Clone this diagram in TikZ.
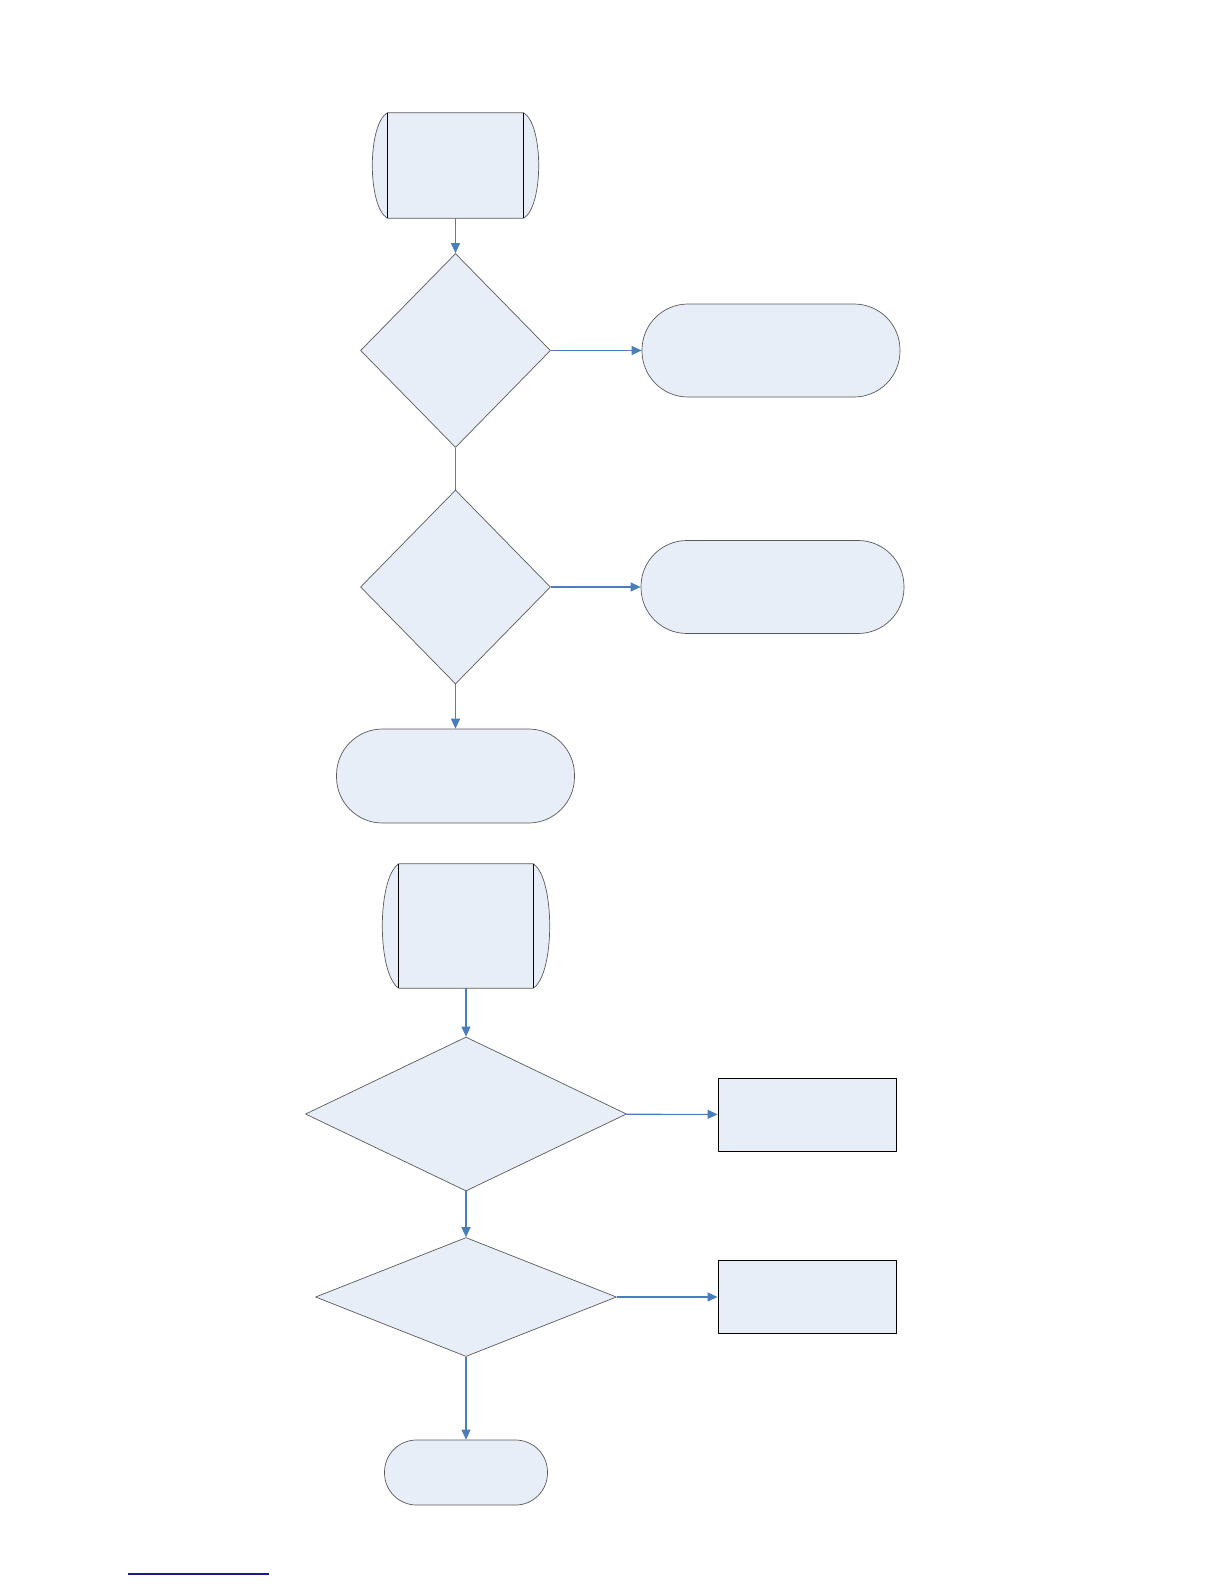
\documentclass[tikz,border=0pt]{standalone}
\usetikzlibrary{shapes.geometric,arrows.meta}

\definecolor{boxfill}{HTML}{E8EEF7}
\definecolor{flowblue}{HTML}{4A7EBB}
\definecolor{edgegray}{HTML}{5A5A5A}
\definecolor{rulenavy}{HTML}{1A1A8C}

\tikzset{
  decision/.style={diamond, draw=edgegray, fill=boxfill, line width=0.7pt, inner sep=0pt},
  terminal/.style={rectangle, draw=edgegray, fill=boxfill, line width=0.7pt},
  process/.style={rectangle, draw=black, fill=boxfill, line width=0.9pt},
  storebox/.style={rectangle, inner sep=0pt},
  flow/.style={->, flowblue, line width=1.1pt},
  joinline/.style={flowblue, line width=1.1pt}
}

\begin{document}
\begin{tikzpicture}[x=1pt, y=-1pt, >={Triangle[length=10pt,width=9pt]}, line join=round]
    \useasboundingbox (0,0) rectangle (1224,1584);

    % upper chart
    \node[storebox, minimum width=136pt, minimum height=105pt] (store1) at (455.5,165.5) {};
    \fill[boxfill, draw=edgegray, line width=0.7pt] (store1.north west) -- (store1.north east)
        .. controls +(20,12) and +(20,-12) .. (store1.south east) -- (store1.south west)
        .. controls +(-20,-12) and +(-20,12) .. cycle;
    \draw[line width=0.9pt] (store1.north west) -- (store1.south west);
    \draw[line width=0.9pt] (store1.north east) -- (store1.south east);

    \node[decision, minimum width=190pt, minimum height=194pt] (dec1) at (455.5,350.5) {};
    \node[terminal, rounded corners=46pt, minimum width=258pt, minimum height=93pt] (end1) at (771,350.5) {};

    \node[decision, minimum width=190pt, minimum height=194pt] (dec2) at (455.5,587) {};
    \node[terminal, rounded corners=46pt, minimum width=263pt, minimum height=93pt] (end2) at (772.5,587) {};

    \node[terminal, rounded corners=46pt, minimum width=238pt, minimum height=94pt] (end3) at (455.5,776) {};

    \draw[flow] (store1) -- (dec1);
    \draw[flow] (dec1) -- (end1);
    \draw[joinline] (dec1) -- (dec2);
    \draw[flow] (dec2) -- (end2);
    \draw[flow] (dec2) -- (end3);

    % lower chart
    \node[storebox, minimum width=134pt, minimum height=124pt] (store2) at (466,926) {};
    \fill[boxfill, draw=edgegray, line width=0.7pt] (store2.north west) -- (store2.north east)
        .. controls +(22,14) and +(22,-14) .. (store2.south east) -- (store2.south west)
        .. controls +(-22,-14) and +(-22,14) .. cycle;
    \draw[line width=0.9pt] (store2.north west) -- (store2.south west);
    \draw[line width=0.9pt] (store2.north east) -- (store2.south east);

    \node[decision, minimum width=321pt, minimum height=154pt] (dec3) at (466,1114) {};
    \node[process, minimum width=178pt, minimum height=73pt] (proc1) at (807,1114.5) {};

    \node[decision, minimum width=301pt, minimum height=119pt] (dec4) at (466,1297) {};
    \node[process, minimum width=178pt, minimum height=73pt] (proc2) at (807,1297) {};

    \node[terminal, rounded corners=32pt, minimum width=163pt, minimum height=65pt] (end4) at (466,1472.5) {};

    \draw[flow] (store2) -- (dec3);
    \draw[flow] (dec3) -- (proc1);
    \draw[flow] (dec3) -- (dec4);
    \draw[flow] (dec4) -- (proc2);
    \draw[flow] (dec4) -- (end4);

    % rule at page foot
    \coordinate (ruleL) at (128,1574);
    \coordinate (ruleR) at (269,1574);
    \draw[rulenavy, line width=1.2pt] (ruleL) -- (ruleR);
\end{tikzpicture}
\end{document}
